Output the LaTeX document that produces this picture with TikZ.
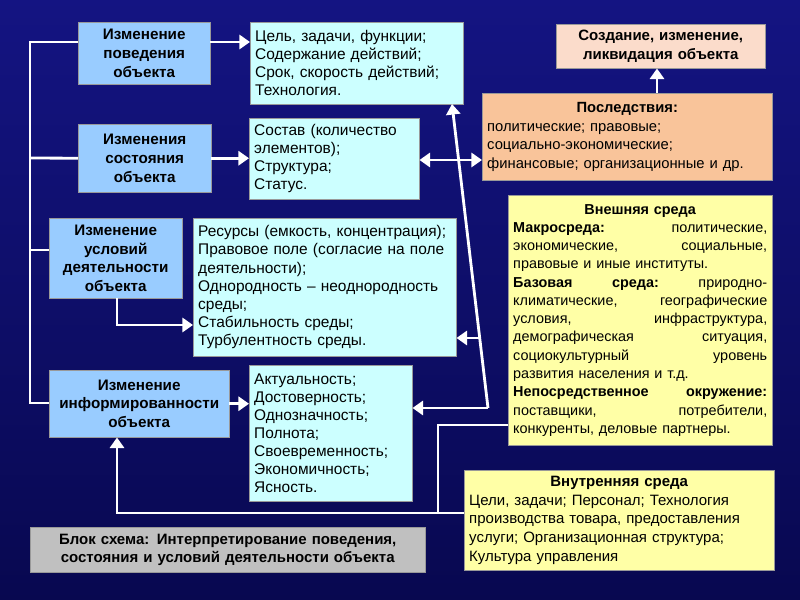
\documentclass[tikz,border=0pt]{standalone}
\usepackage{fontspec}
\setmainfont{Liberation Sans}
\usetikzlibrary{arrows.meta,calc}
\definecolor{bluebox}{HTML}{99CCFF}
\definecolor{cyanbox}{HTML}{CCFFFF}
\definecolor{orangebox}{HTML}{F9C49A}
\definecolor{pinkbox}{HTML}{FBDCCB}
\definecolor{yellowbox}{HTML}{FFFFA6}
\definecolor{graybox}{HTML}{C0C0C0}
\newcommand{\jl}[1]{\hbox to \linewidth{#1}}
\tikzset{
  base/.style={anchor=north west, inner sep=0.15cm, draw=black!40, line width=0.4pt, text=black},
  bluenode/.style={base, fill=bluebox, align=center, font=\fontsize{13}{16}\selectfont\bfseries},
  cyannode/.style={base, fill=cyanbox, align=left, font=\fontsize{13.2}{15.5}\selectfont},
  wl/.style={draw=white, line width=2.4pt},
  wa/.style={wl, -{Triangle[length=9pt,width=12pt]}},
  wb/.style={wl, {Triangle[length=9pt,width=12pt]}-{Triangle[length=9pt,width=12pt]}},
}
\begin{document}
\begin{tikzpicture}[x=0.03cm,y=-0.03cm]
\shade[top color={rgb,255:red,20;green,20;blue,130}, bottom color={rgb,255:red,8;green,8;blue,80}] (0,0) rectangle (800,600);
\useasboundingbox (0,0) rectangle (800,600);

\node[bluenode, minimum width=3.96cm, minimum height=1.86cm, text width=3.66cm] (b1) at (78,22) {Изменение\\поведения\\объекта};
\node[bluenode, minimum width=3.99cm, minimum height=2.04cm, text width=3.69cm] (b2) at (78,124) {Изменения\\состояния\\объекта};
\node[bluenode, minimum width=3.99cm, minimum height=2.4cm, text width=3.69cm] (b3) at (49,218) {Изменение\\условий\\деятельности\\объекта};
\node[bluenode, minimum width=5.4cm, minimum height=2.01cm, text width=5.1cm] (b4) at (49,370) {Изменение\\информированности\\объекта};

\node[cyannode, minimum width=6.39cm, minimum height=2.46cm, text width=6.09cm] (r1) at (250,22) {Цель, задачи, функции;\\Содержание действий;\\Срок, скорость действий;\\Технология.};
\node[cyannode, minimum width=5.1cm, minimum height=2.43cm, text width=4.8cm] (r2) at (249,118) {Состав (количество\\элементов);\\Структура;\\Статус.};
\node[cyannode, minimum width=7.89cm, minimum height=4.14cm, text width=7.59cm] (r3) at (193,218) {Ресурсы (емкость, концентрация);\\Правовое поле (согласие на поле\\деятельности);\\Однородность – неоднородность\\среды;\\Стабильность среды;\\Турбулентность среды.};
\node[cyannode, minimum width=4.89cm, minimum height=4.08cm, text width=4.59cm] (r4) at (249,365) {Актуальность;\\Достоверность;\\Однозначность;\\Полнота;\\Своевременность;\\Экономичность;\\Ясность.};

\node[base, fill=pinkbox, minimum width=6.27cm, minimum height=1.32cm, text width=5.97cm, align=center, font=\fontsize{12.8}{15.5}\selectfont\bfseries] (c) at (556,24) {Создание, изменение,\\ликвидация объекта};
\node[base, fill=orangebox, minimum width=8.7cm, minimum height=2.61cm, text width=8.4cm, align=left, font=\fontsize{12.6}{15.8}\selectfont] (p) at (482,93) {\hfill\textbf{Последствия:}\hfill\null\\политические; правовые;\\социально-экономические;\\финансовые; организационные и др.};
\node[base, fill=yellowbox, minimum width=7.92cm, minimum height=7.5cm, text width=7.62cm, align=left, font=\fontsize{12.3}{15.6}\selectfont] (e) at (508,195) {\jl{\hfil\textbf{Внешняя среда}\hfil}
\jl{\textbf{Макросреда:}\hfill политические,}
\jl{экономические,\hfill социальные,}
\jl{правовые и иные институты.\hfill}
\jl{\textbf{Базовая}\hfill\textbf{среда:}\hfill природно-}
\jl{климатические,\hfill географические}
\jl{условия,\hfill инфраструктура,}
\jl{демографическая\hfill ситуация,}
\jl{социокультурный\hfill уровень}
\jl{развития населения и т.д.\hfill}
\jl{\textbf{Непосредственное}\hfill\textbf{окружение:}}
\jl{поставщики,\hfill потребители,}
\jl{конкуренты, деловые партнеры.\hfill}};
\node[base, fill=yellowbox, minimum width=9.3cm, minimum height=3cm, text width=9.0cm, align=left, font=\fontsize{12.8}{16}\selectfont] (i) at (464,470) {\hfill\textbf{Внутренняя среда}\hfill\null\\Цели, задачи; Персонал; Технология\\производства товара, предоставления\\услуги; Организационная структура;\\Культура управления};
\node[base, fill=graybox, minimum width=11.85cm, minimum height=1.35cm, text width=11.55cm, align=center, font=\fontsize{12.8}{15.5}\selectfont\bfseries] (g) at (30,527) {Блок схема: Интерпретирование поведения,\\состояния и условий деятельности объекта};

% left bus
\coordinate (bt) at (30,42);
\coordinate (bb) at (30,403);
\draw[wl] (b1.west |- bt) -- (bt) -- (bb) -- (b4.west |- bb);
\draw[wl] (30,158) -- (b2.west);
\draw[wl] (30,250) -- (b3.west |- 0,250);
% blue to cyan
\draw[wa] (b1.east |- bt) -- (r1.west |- bt);
\draw[wa] (b2.east) -- (r2.west |- b2.east);
\coordinate (b3t) at (117,325);
\draw[wa] (b3.south -| b3t) -- (b3t) -- (r3.west |- b3t);
\draw[wa] (b4.east) -- (r4.west |- b4.east);
% consequences
\draw[wb] (r2.east |- 0,160) -- (p.west |- 0,160);
\draw[wa] (p.north -| 657,0) -- (c.south -| 657,0);
% slanted feedback
\coordinate (sk) at (488,408);
\draw[wa] (sk) -- (452,104);
\draw[wa] (sk) -- (r4.east |- sk);
\draw[wa] (480,338) -- (r3.east |- 0,338);
% bottom loop
\coordinate (ib) at (117,513);
\coordinate (jn) at (438,513);
\draw[wl] (i.west |- ib) -- (jn) -- (438,425) -- (e.west |- 0,425);
\draw[wa] (i.west |- ib) -- (ib) -- (b4.south -| ib);
\end{tikzpicture}
\end{document}
